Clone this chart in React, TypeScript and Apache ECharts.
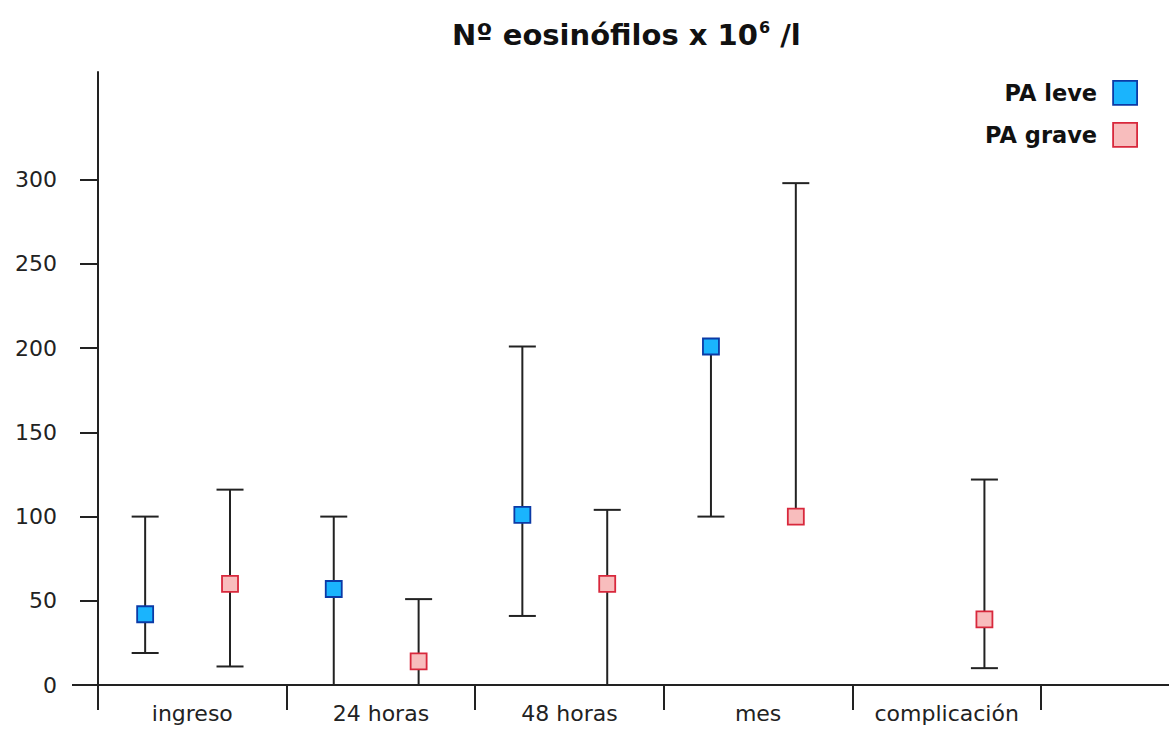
import React, { useEffect, useRef } from "react";
import * as echarts from "echarts";

// Eosinophil counts per stage: mean with lower / upper range
const categories = ["ingreso", "24 horas", "48 horas", "mes", "complicación"];
const leveMean = [42, 57, 101, 201, null];
const leveLow = [19, 0, 41, 100, null];
const leveHigh = [100, 100, 201, 201, null];
const graveMean = [60, 14, 60, 100, 39];
const graveLow = [11, 0, 0, 100, 10];
const graveHigh = [116, 51, 104, 298, 122];
const yTicks = [0, 50, 100, 150, 200, 250, 300];

const FONT = "'DejaVu Sans', Verdana, sans-serif";
const LEVE = { fill: "#1ab4fd", stroke: "#0b3aa6" };
const GRAVE = { fill: "#f8bdbd", stroke: "#d8283c" };

// category boundaries and label positions on a continuous x scale
const catBounds = categories.map((_, i) => i).concat([categories.length]);
const catCenters = categories.map((_, i) => i + 0.5);

function buildRows(mean: (number | null)[], low: (number | null)[], high: (number | null)[]) {
  const rows: number[][] = [];
  mean.forEach((m, i) => {
    if (m == null) return;
    rows.push([i + 0.5, m, low[i] as number, high[i] as number]);
  });
  return rows;
}

function makeRenderer(offset: number, fill: string, stroke: string) {
  return (params: any, api: any) => {
    const cx = api.value(0) + offset;
    const mean = api.value(1);
    const lo = api.value(2);
    const hi = api.value(3);
    const c = api.coord([cx, mean]);
    const x = c[0];
    const y = c[1];
    const yLo = api.coord([cx, lo])[1];
    const yHi = api.coord([cx, hi])[1];
    const cap = 13.5;
    const lineStyle = { stroke: "#222", lineWidth: 2 };
    const children: any[] = [
      { type: "line", shape: { x1: x, y1: yHi, x2: x, y2: yLo }, style: lineStyle },
    ];
    if (hi > mean) children.push({ type: "line", shape: { x1: x - cap, y1: yHi, x2: x + cap, y2: yHi }, style: lineStyle });
    if (lo < mean) children.push({ type: "line", shape: { x1: x - cap, y1: yLo, x2: x + cap, y2: yLo }, style: lineStyle });
    const s = 16;
    children.push({
      type: "rect",
      shape: { x: x - s / 2, y: y - s / 2, width: s, height: s },
      style: { fill, stroke, lineWidth: 1.8 },
    });
    return { type: "group", children };
  };
}

export default function App() {
  const ref = useRef<HTMLDivElement>(null);

  useEffect(() => {
    if (!ref.current) return;
    const chart = echarts.init(ref.current, null, { renderer: "svg" });
    const gridLeft = 98;
    const bandW = 188.6;
    const axisY = 685;
    const width = 1169;

    const legendText = { fontFamily: FONT, fontWeight: "bold", fontSize: 22.5, color: "#111", padding: [0, 11, 0, 0] };

    chart.setOption({
      animation: false,
      backgroundColor: "#ffffff",
      title: {
        text: "{a|Nº eosinófilos x 10}{s|6}{a| /l}",
        left: 447,
        top: 12,
        textStyle: {
          rich: {
            a: { fontFamily: FONT, fontWeight: "bold", fontSize: 29, color: "#111", lineHeight: 36 },
            s: { fontFamily: FONT, fontWeight: "bold", fontSize: 16, color: "#111", lineHeight: 36, padding: [0, 0, 15, 1] },
          },
        },
      },
      legend: [
        {
          data: [{ name: "PA leve", icon: "rect", itemStyle: { color: LEVE.fill, borderColor: LEVE.stroke, borderWidth: 1.8 } }],
          right: 26,
          top: 75,
          align: "right",
          itemWidth: 24,
          itemHeight: 24,
          textStyle: legendText,
          selectedMode: false,
        },
        {
          data: [{ name: "PA grave", icon: "rect", itemStyle: { color: GRAVE.fill, borderColor: GRAVE.stroke, borderWidth: 1.8 } }],
          right: 26,
          top: 117,
          align: "right",
          itemWidth: 24,
          itemHeight: 24,
          textStyle: legendText,
          selectedMode: false,
        },
      ],
      grid: { left: gridLeft, top: 72, right: 0, height: axisY - 72 },
      xAxis: {
        type: "value",
        min: 0,
        max: (width - gridLeft) / bandW,
        axisLine: { show: true, lineStyle: { color: "#222", width: 2 } },
        axisTick: { show: true, length: 25, customValues: catBounds, lineStyle: { color: "#222", width: 2 } },
        axisLabel: {
          fontFamily: FONT,
          fontSize: 22,
          color: "#222",
          margin: 17,
          customValues: catCenters,
          formatter: (v: number) => categories[Math.floor(v)] ?? "",
        },
        splitLine: { show: false },
      },
      yAxis: {
        type: "value",
        min: 0,
        max: 364,
        axisLine: { show: true, lineStyle: { color: "#222", width: 2 } },
        axisTick: { show: true, length: 18, customValues: yTicks, lineStyle: { color: "#222", width: 2 } },
        axisLabel: { fontFamily: FONT, fontSize: 22, color: "#222", margin: 41, customValues: yTicks },
        splitLine: { show: false },
      },
      graphic: [
        {
          type: "line",
          shape: { x1: 72, y1: axisY, x2: gridLeft, y2: axisY },
          style: { stroke: "#222", lineWidth: 2 },
        },
      ],
      series: [
        {
          name: "PA leve",
          type: "custom",
          renderItem: makeRenderer(-0.25, LEVE.fill, LEVE.stroke),
          encode: { x: 0, y: 1 },
          data: buildRows(leveMean, leveLow, leveHigh),
          itemStyle: { color: LEVE.fill },
          clip: false,
          z: 3,
        },
        {
          name: "PA grave",
          type: "custom",
          renderItem: makeRenderer(0.2, GRAVE.fill, GRAVE.stroke),
          encode: { x: 0, y: 1 },
          data: buildRows(graveMean, graveLow, graveHigh),
          itemStyle: { color: GRAVE.fill },
          clip: false,
          z: 3,
        },
      ],
    });

    return () => chart.dispose();
  }, []);

  return (
    <div
      ref={ref}
      style={{ position: "absolute", left: 0, top: 0, width: 1169, height: 729 }}
    />
  );
}
